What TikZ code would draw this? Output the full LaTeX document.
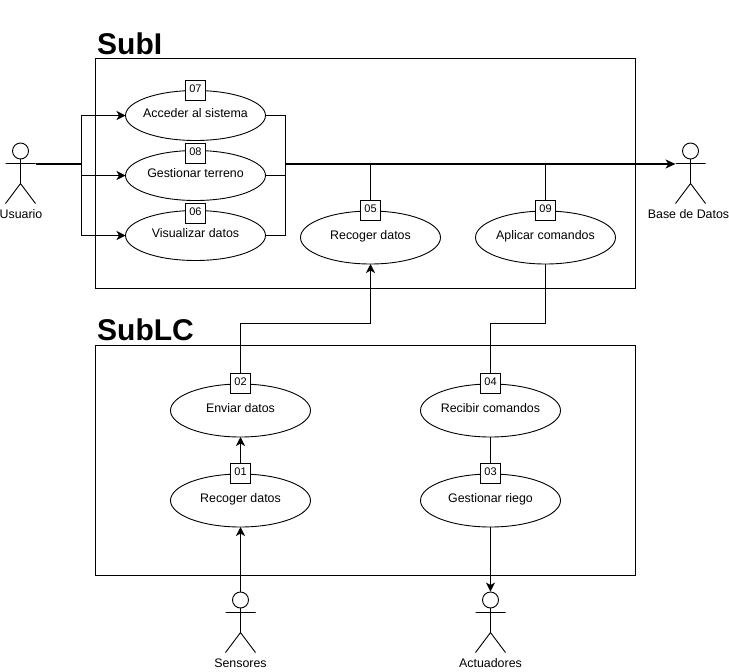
\documentclass[tikz,border=0pt]{standalone}
\usepackage{fontspec}
\setmainfont{Liberation Sans}
\usetikzlibrary{arrows.meta,shapes,positioning}
\tikzstyle{useCase}=[draw, ellipse, line width=0.9pt, inner xsep=-25pt, inner ysep=0pt, outer sep=0pt, minimum width=140pt, minimum height=50pt, font=\fontsize{12.4}{14}\selectfont, text height=8pt, text depth=4pt]
\tikzstyle{useCaseTall}=[useCase, minimum height=53pt]
\tikzstyle{idBox}=[draw, fill=white, line width=0.9pt, inner sep=0pt, minimum size=20pt, font=\fontsize{11}{13}\selectfont, text height=8.5pt, text depth=4pt]
\tikzstyle{subsystem}=[draw, line width=0.9pt, inner sep=0pt, minimum width=540pt, minimum height=230pt]
\tikzstyle{subTitle}=[anchor=base west, inner sep=0pt, font=\fontsize{30}{34}\selectfont\bfseries]
\tikzstyle{actorHead}=[draw, circle, line width=0.9pt, inner sep=0pt, minimum size=16pt]
\tikzstyle{actorLabel}=[anchor=base, inner sep=0pt, font=\fontsize{12.4}{14}\selectfont]
\tikzstyle{flowLine}=[line width=1pt]
\tikzstyle{flowArrow}=[flowLine, -{Stealth[length=9pt,width=9pt,inset=2.5pt]}]
\tikzstyle{trunkLine}=[line width=2pt]
\newcommand{\drawActor}[5]{
    \node[actorHead] (#1) at (#2,#3) {};
    \coordinate (#1Neck) at (#2,#3+8);
    \coordinate (#1Left) at (#2-15,#3+12.5);
    \coordinate (#1Right) at (#2+15,#3+12.5);
    \coordinate (#1Seat) at (#2,#3+32.5);
    \coordinate (#1FootL) at (#2-15,#3+52.5);
    \coordinate (#1FootR) at (#2+15,#3+52.5);
    \draw[line width=0.9pt] (#1Neck) -- (#1Seat) (#1Left) -- (#1Right) (#1FootL) -- (#1Seat) -- (#1FootR);
    \node[actorLabel] (#1Label) at (#5,#3+67.5) {#4};
}
\begin{document}
\begin{tikzpicture}[x=1pt,y=-1pt]
    \useasboundingbox (0,0) rectangle (729,672);

    % subsystems
    \node[subsystem] (subI) at (365.5,173.5) {};
    \node[subsystem] (subLC) at (365.5,460.5) {};
    \node[subTitle] (subITitle) at (97,54) {SubI};
    \node[subTitle] (subLCTitle) at (97,340) {SubLC};

    % use cases
    \node[useCase] (acceder) at (195.5,115.5) {Acceder al sistema};
    \node[useCase] (gestionar) at (195.5,175.5) {Gestionar terreno};
    \node[useCase] (visualizar) at (195.5,235.5) {Visualizar datos};
    \node[useCaseTall] (recogerI) at (370.5,237.5) {Recoger datos};
    \node[useCaseTall] (aplicar) at (545.5,237.5) {Aplicar comandos};
    \node[useCaseTall] (enviar) at (240.5,410.5) {Enviar datos};
    \node[useCaseTall] (recibir) at (490.5,410.5) {Recibir comandos};
    \node[useCaseTall] (recogerLC) at (240.5,500.5) {Recoger datos};
    \node[useCaseTall] (riego) at (490.5,500.5) {Gestionar riego};

    % numbers
    \node[idBox] (id07) at (195.5,90.5) {07};
    \node[idBox] (id08) at (195.5,153.5) {08};
    \node[idBox] (id06) at (195.5,213.5) {06};
    \node[idBox] (id05) at (370.5,210.5) {05};
    \node[idBox] (id09) at (545.5,210.5) {09};
    \node[idBox] (id02) at (240.5,383.5) {02};
    \node[idBox] (id04) at (490.5,383.5) {04};
    \node[idBox] (id01) at (240.5,473.5) {01};
    \node[idBox] (id03) at (490.5,473.5) {03};

    % actors
    \drawActor{usuario}{20.5}{151}{Usuario}{21}
    \drawActor{baseDatos}{690.5}{151}{Base de Datos}{688.5}
    \drawActor{sensores}{240.5}{600}{Sensores}{240.5}
    \drawActor{actuadores}{490.5}{600}{Actuadores}{490.5}

    % junctions
    \coordinate (joinLeft) at (81,164);
    \coordinate (joinRight) at (285.5,164);
    \coordinate (bendEnviar) at (240.5,323.5);
    \coordinate (bendAplicar) at (490.5,323.5);

    % Arcs
    \draw[trunkLine] (usuarioRight |- joinLeft) -- (joinLeft);
    \draw[flowArrow] (joinLeft) |- (acceder);
    \draw[flowArrow] (joinLeft) |- (gestionar);
    \draw[flowArrow] (joinLeft) |- (visualizar);
    \draw[flowLine] (acceder) -| (joinRight);
    \draw[flowLine] (gestionar) -| (joinRight);
    \draw[flowLine] (visualizar) -| (joinRight);
    \draw[trunkLine, -{Stealth[length=10pt,width=9pt,inset=3pt]}] (joinRight) -- (baseDatosLeft |- joinRight);
    \draw[flowLine] (id05) -- (id05 |- joinRight);
    \draw[flowLine] (id09) -- (id09 |- joinRight);
    \draw[flowArrow] (id02) -- (bendEnviar) -| (recogerI);
    \draw[flowLine] (aplicar) |- (bendAplicar) -- (id04);
    \draw[flowArrow] (id01) -- (enviar);
    \draw[flowLine] (recibir) -- (id03);
    \draw[flowArrow] (sensores) -- (recogerLC);
    \draw[flowArrow] (riego) -- (actuadores);
\end{tikzpicture}
\end{document}
